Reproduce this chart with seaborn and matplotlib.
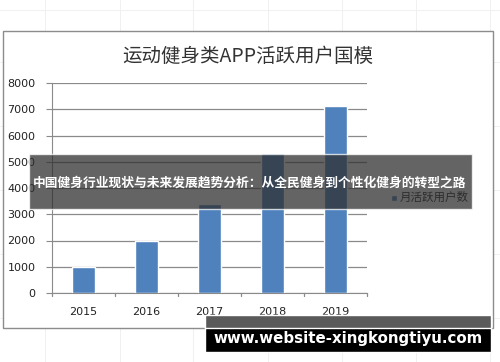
import matplotlib
matplotlib.use("Agg")
import matplotlib.pyplot as plt
import seaborn as sns
import pandas as pd
from matplotlib.patches import Rectangle

years = ["2015", "2016", "2017", "2018", "2019"]
users = [1000, 1980, 3390, 5330, 7120]
title = "运动健身类APP活跃用户国模"
legend_label = "月活跃用户数"
banner = "中国健身行业现状与未来发展趋势分析：从全民健身到个性化健身的转型之路"
site = "www.website-xingkongtiyu.com"

sns.set_style("white")
plt.rcParams['font.family'] = ['Noto Sans CJK SC', 'DejaVu Sans']

df = pd.DataFrame({"year": years, "users": users})

W, H = 500, 362
fig = plt.figure(figsize=(5, 3.62), dpi=100)

def fx(x):
    return x / W

def fy(y):
    return 1 - y / H

# faint spreadsheet grid in the background
for gx in [45, 120, 193, 268, 342, 416, 490]:
    fig.add_artist(plt.Line2D([fx(gx), fx(gx)], [0, 1], color="#eeeeee", lw=0.6, zorder=0))
for gy in [10, 62, 126, 190, 254, 318]:
    fig.add_artist(plt.Line2D([0, 1], [fy(gy), fy(gy)], color="#eeeeee", lw=0.6, zorder=0))

# chart frame
fig.add_artist(Rectangle((fx(3), fy(328)), fx(490), (328 - 31) / H, transform=fig.transFigure,
                         facecolor="white", edgecolor="#8c8c8c", lw=1.0, zorder=1))

ax = fig.add_axes([fx(52), fy(293), fx(315), (293 - 83) / H])
ax.set_zorder(2)
ax.patch.set_alpha(0)
sns.barplot(data=df, x="year", y="users", color="#4f81bd", width=0.38, saturation=1, ax=ax, zorder=3)
ax.set_ylim(0, 8000)
ax.set_yticks(range(0, 8001, 1000))
ax.yaxis.grid(True, color="#8a8a8a", lw=0.9)
ax.set_axisbelow(True)
ax.set_xlabel("")
ax.set_ylabel("")
for s in ["top", "right"]:
    ax.spines[s].set_visible(False)
ax.spines["left"].set_color("#8a8a8a")
ax.spines["bottom"].set_color("#8a8a8a")
ax.tick_params(axis="y", labelsize=8, colors="#222222", length=4, color="#8a8a8a", pad=8, left=True)
ax.tick_params(axis="x", labelsize=8, colors="#222222", length=0, pad=10)
for lab in ax.get_xticklabels() + ax.get_yticklabels():
    lab.set_family("DejaVu Sans")
    lab.set_fontweight("medium")
for b in [-0.5, 0.5, 1.5, 2.5, 3.5, 4.5]:
    ax.plot([b, b], [0, -120], color="#8a8a8a", lw=0.9, clip_on=False)
ax.set_xlim(-0.5, 4.5)

fig.text(fx(248), fy(56), title, ha="center", va="center", fontsize=14, color="#333333",
         fontweight="light")

# legend
fig.add_artist(Rectangle((fx(391), fy(201)), fx(6), 6 / H, transform=fig.transFigure,
                         facecolor="#4f81bd", zorder=4))
fig.text(fx(400), fy(197), legend_label, ha="left", va="center", fontsize=8.3, color="#222222", zorder=4)

# overlay banner
fig.add_artist(Rectangle((fx(29), fy(209)), fx(443), 55 / H, transform=fig.transFigure,
                         facecolor="#303030", alpha=0.75, zorder=5))
fig.text(fx(250), fy(183), banner, ha="center", va="center", fontsize=9.2, color="white",
         fontweight="bold", zorder=6)

# bottom site banner
fig.add_artist(Rectangle((fx(205), fy(352)), fx(286), 37 / H, transform=fig.transFigure,
                         facecolor="black", zorder=5))
fig.add_artist(Rectangle((fx(205), fy(328)), fx(286), 13 / H, transform=fig.transFigure,
                         facecolor="#5a5a5a", zorder=5))
fig.text(fx(348), fy(338), site, ha="center", va="center", fontsize=10.8, color="white",
         fontweight="bold", family="DejaVu Sans", zorder=6)

fig.savefig("out.png", dpi=100)
